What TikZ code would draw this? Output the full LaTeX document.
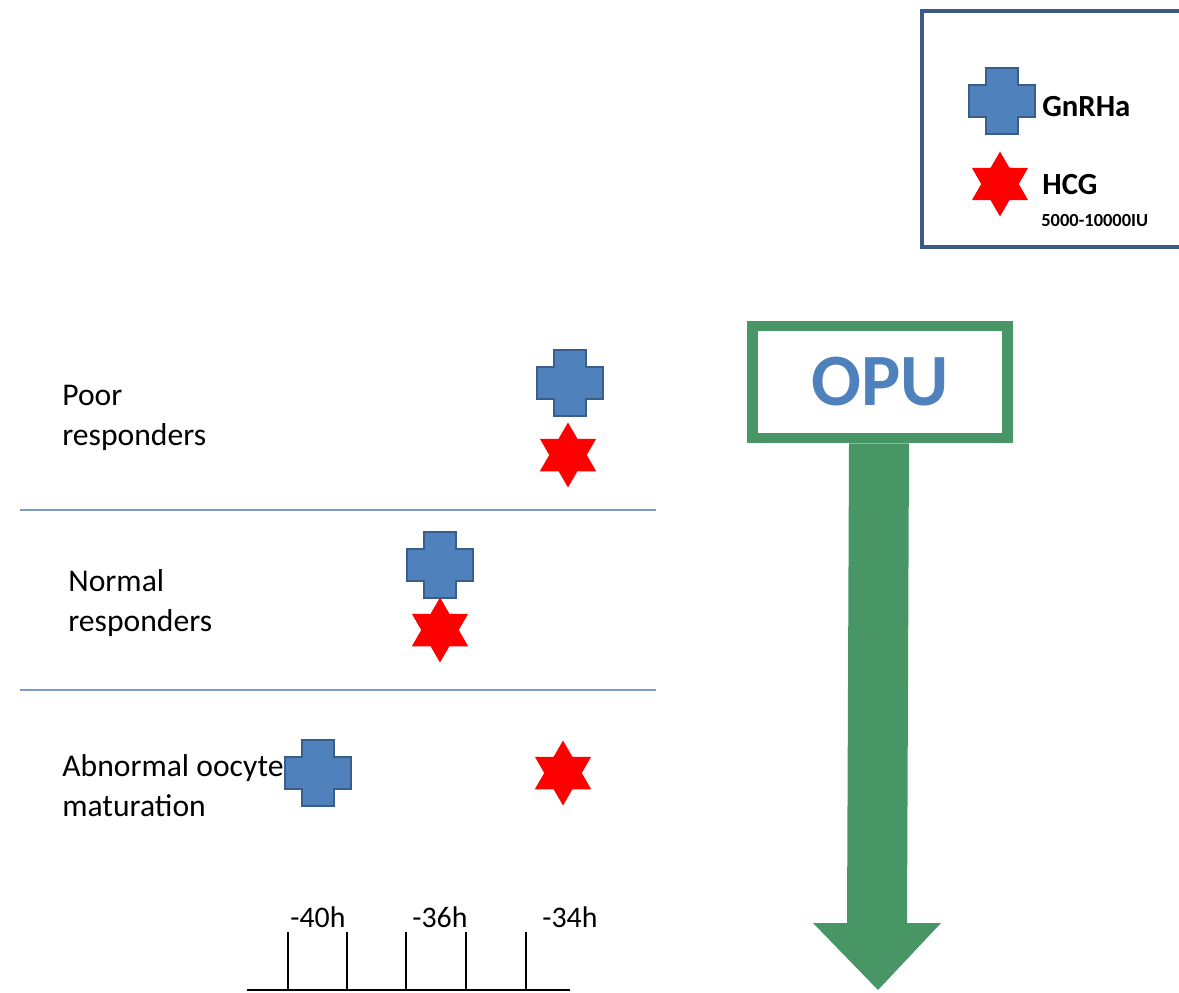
\documentclass[tikz,border=0pt]{standalone}
\usepackage{fontspec}
\setmainfont{Carlito}
\usepackage{tikz}
\usetikzlibrary{shapes.geometric,positioning,calc}
\definecolor{gnblue}{RGB}{79,129,189}
\definecolor{gnedge}{RGB}{58,94,140}
\definecolor{opugreen}{RGB}{72,150,102}
\definecolor{sepline}{RGB}{125,155,195}
\definecolor{legframe}{RGB}{60,90,135}
\tikzset{
  grouplabel/.style={anchor=west, align=left, inner sep=0pt, font=\fontsize{18}{22.7}\selectfont},
  ticklabel/.style={inner sep=0pt, font=\fontsize{17}{20}\selectfont},
  legtext/.style={anchor=west, inner sep=0pt, font=\bfseries\fontsize{17.5}{20}\selectfont},
  hcgstar/.style={star, star points=6, star point ratio=1.732, fill=red, draw=none, minimum size=1.3cm, inner sep=0pt},
  opubox/.style={draw=opugreen, line width=6.2pt, fill=white, minimum width=5.1cm, minimum height=2.24cm,
    text=gnblue, font=\bfseries\fontsize{42}{44}\selectfont},
  sep/.style={draw=sepline, line width=1.1pt},
  axis/.style={draw=black, line width=1.1pt},
  gnrha/.pic={\filldraw[fill=gnblue, draw=gnedge, line width=0.8pt]
    (-16,-33) -- (16,-33) -- (16,-16) -- (33,-16) -- (33,16) -- (16,16) -- (16,33)
    -- (-16,33) -- (-16,16) -- (-33,16) -- (-33,-16) -- (-16,-16) -- cycle;}
}

\begin{document}
\begin{tikzpicture}[x=0.02cm, y=-0.02cm]
  \useasboundingbox (0,0) rectangle (1179,993);
  % legend
  \begin{scope}
    \clip (0,0) rectangle (1179,993);
    \draw[legframe, line width=1.8pt] (922,11) rectangle (1190,247);
  \end{scope}
  \pic (legG) at (1002,101) {gnrha};
  \node[hcgstar] (legH) at (1000,184) {};
  \node[legtext] (gnTxt) at (1042,107) {GnRHa};
  \node[legtext] (hcgTxt) at (1042,185) {HCG};
  \node[anchor=west, inner sep=0pt, font=\bfseries\fontsize{10.5}{12}\selectfont] (dose) at (1041,221) {5000-10000IU};

  % OPU arrow
  \node[opubox] (opu) at (880,382) {OPU};
  \coordinate (tip) at (878,990);
  \fill[opugreen] ($(opu.south)+(-31,0)$) -- ($(opu.south)+(29,0)$) -- ($(tip)+(29,-67)$)
    -- ($(tip)+(63,-67)$) -- (tip) -- ($(tip)+(-65,-67)$) -- ($(tip)+(-31,-67)$) -- cycle;
  \node[opubox] at (opu) {OPU};

  % groups
  \node[grouplabel] (poor) at (62,418) {Poor\\responders};
  \node[grouplabel] (normal) at (68,603) {Normal\\responders};
  \node[grouplabel] (abn) at (62,786) {Abnormal oocyte\\maturation};
  \draw[sep] (20,510) -- (656,510);
  \draw[sep] (20,690) -- (656,690);

  \pic (poorG) at (570,383) {gnrha};
  \node[hcgstar] (poorH) at (568,455) {};
  \pic (normG) at (440,565) {gnrha};
  \node[hcgstar] (normH) at (440,630) {};
  \pic (abnG) at (318,773) {gnrha};
  \node[hcgstar] (abnH) at (563,773) {};

  % time axis
  \draw[axis] (247,990) -- (570,990);
  \foreach \tx in {288,347,406,466,526}
    \draw[axis] (\tx,932) -- (\tx,990);
  \node[ticklabel] (t40) at (318,917) {-40h};
  \node[ticklabel] (t36) at (440,917) {-36h};
  \node[ticklabel] (t34) at (570,917) {-34h};
\end{tikzpicture}
\end{document}
